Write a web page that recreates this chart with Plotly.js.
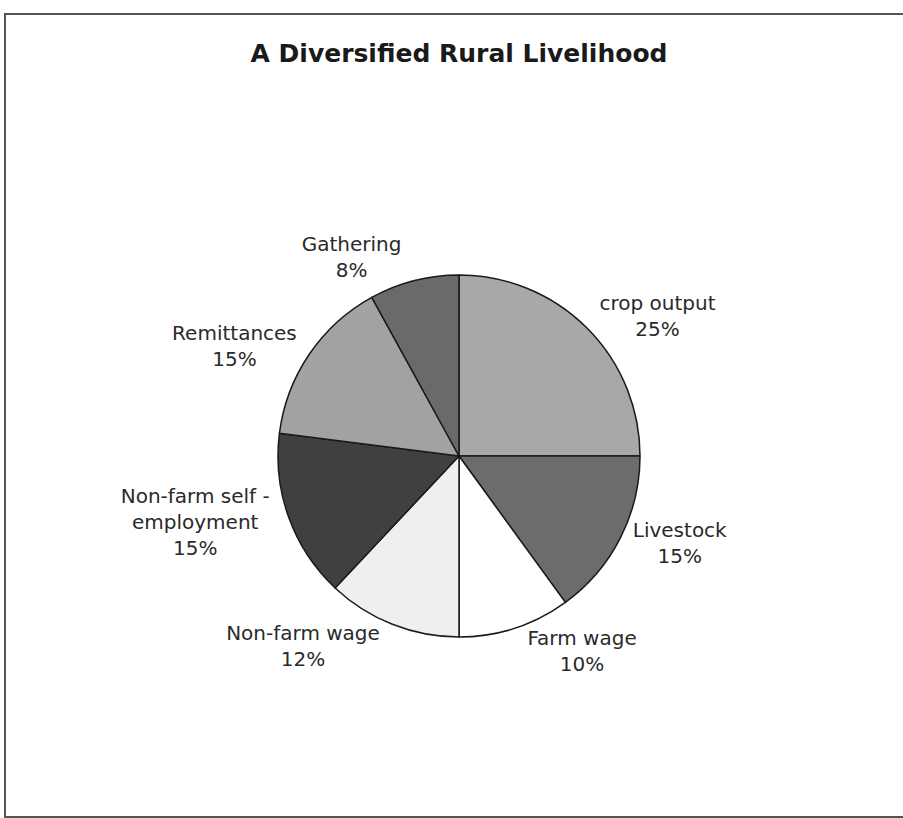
<!DOCTYPE html>
<html>
<head>
<meta charset="utf-8">
<script src="https://cdn.plot.ly/plotly-3.0.1.min.js"></script>
<style>
  html, body { margin: 0; padding: 0; background: #ffffff; }
  #chart { width: 903px; height: 818px; }
</style>
</head>
<body>
<div id="chart"></div>
<script>
const categories = ["crop output", "Livestock", "Farm wage", "Non-farm wage", "Non-farm self -<br>employment", "Remittances", "Gathering"];
const shares = [25, 15, 10, 12, 15, 15, 8];
const sliceColors = ["#a8a8a8", "#6c6c6c", "#ffffff", "#efefef", "#404040", "#a2a2a2", "#6a6a6a"];

const W = 903, H = 818;
const cx = 459, cy = 456, r = 181;

const trace = {
  type: "pie",
  labels: categories,
  values: shares,
  sort: false,
  direction: "clockwise",
  rotation: 0,
  marker: { colors: sliceColors, line: { color: "#1a1a1a", width: 1.5 } },
  textposition: "outside",
  texttemplate: "%{label}<br>%{percent:.0%}",
  textfont: { family: "DejaVu Sans, sans-serif", size: 20, color: "#2a2a2a" },
  hoverinfo: "label+percent",
  domain: { x: [(cx - r) / W, (cx + r) / W], y: [1 - (cy + r) / H, 1 - (cy - r) / H] },
  showlegend: false
};

const layout = {
  width: W, height: H,
  margin: { l: 0, r: 0, t: 0, b: 0 },
  paper_bgcolor: "#ffffff",
  title: {
    text: "<b>A Diversified Rural Livelihood</b>",
    font: { family: "DejaVu Sans, sans-serif", size: 25, color: "#1a1a1a" },
    x: 459 / W, xanchor: "center",
    y: 1 - 53 / H, yref: "container", yanchor: "middle"
  },
  shapes: [{
    type: "rect", xref: "paper", yref: "paper",
    x0: 5 / W, x1: 1.01, y0: 1 / H, y1: 1 - 14 / H,
    line: { color: "#555555", width: 2 }, fillcolor: "rgba(0,0,0,0)"
  }]
};

Plotly.newPlot("chart", [trace], layout, { displayModeBar: false });
</script>
</body>
</html>
